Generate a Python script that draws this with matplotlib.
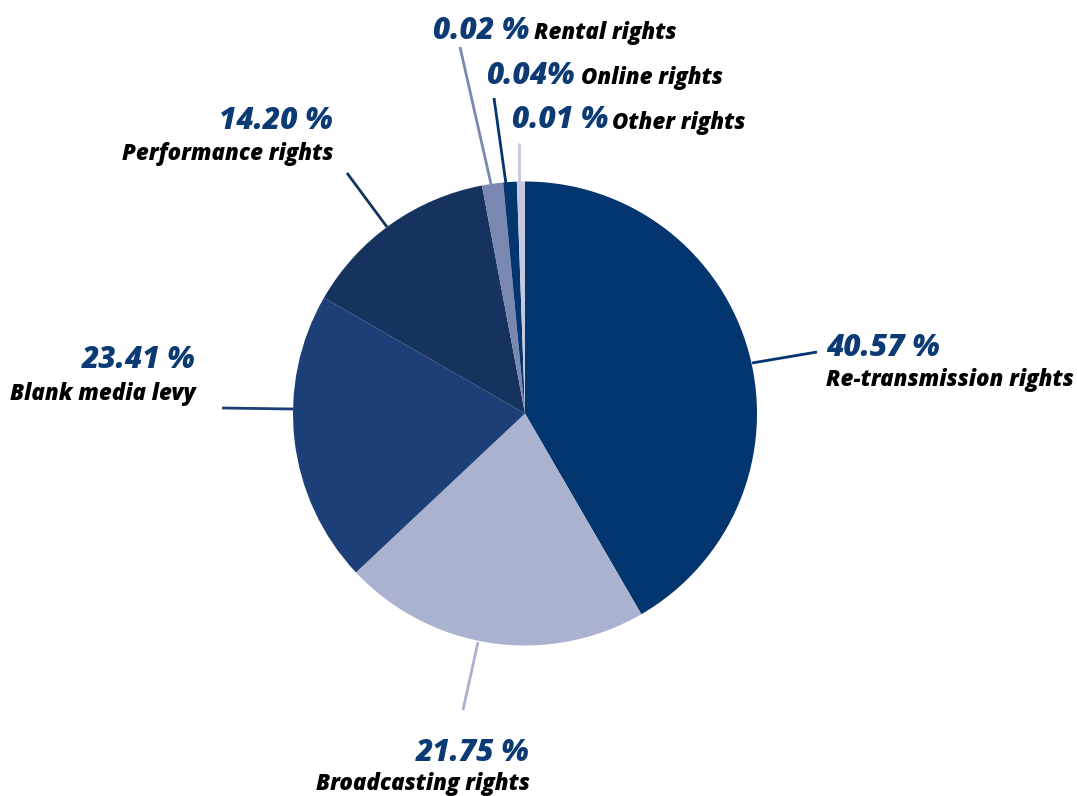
import matplotlib
matplotlib.use("Agg")
import matplotlib.pyplot as plt

# ---- data ----
categories = ["Re-transmission rights", "Broadcasting rights", "Blank media levy",
              "Performance rights", "Rental rights", "Online rights", "Other rights"]
label_pcts = ["40.57 %", "21.75 %", "23.41 %", "14.20 %", "0.02 %", "0.04%", "0.01 %"]
# slice sizes as drawn in the picture (small slices are shown enlarged)
slice_shares = [41.64, 21.35, 20.32, 13.72, 1.47, 0.94, 0.56]
colors = ["#03356e", "#abb2d0", "#1c3f77", "#16335f", "#7a87b0", "#03356e", "#c5c9df"]

W, H, DPI = 1077, 796, 100
CX, CY, R = 525, 413.5, 232

def P(px, py):
    return ((px - CX) / R, (CY - py) / R)

fig = plt.figure(figsize=(W / DPI, H / DPI), dpi=DPI)
ax = fig.add_axes([0, 0, 1, 1])
ax.pie(slice_shares, colors=colors, startangle=90, counterclock=False,
       radius=1, center=(0, 0), wedgeprops=dict(linewidth=0))
ax.set_xlim(-CX / R, (W - CX) / R)
ax.set_ylim(-(H - CY) / R, CY / R)
ax.set_aspect("equal")
ax.axis("off")

FAM = ["Open Sans", "DejaVu Sans"]
pct_color = "#0b3a74"
PCT_FS, LAB_FS = 21.5, 16.0
DY = 3

# leader lines (pixel layout)
leaders = [
    ((752, 363), (817, 352)),
    ((478, 642), (463, 710)),
    ((293, 409), (222, 408)),
    ((387, 227), (347, 173)),
    ((491, 184), (460, 47)),
    ((506, 184), (494, 98)),
    ((519, 183), (519, 143)),
]
for (a, b), c in zip(leaders, colors):
    x0, y0 = P(*a)
    x1, y1 = P(*b)
    ax.plot([x0, x1], [y0, y1], color=c, lw=2, solid_capstyle="butt")

def txt(px, py, s, ha, color, fs):
    x, y = P(px, py + DY)
    ax.text(x, y, s, ha=ha, va="center", color=color, fontsize=fs,
            fontweight=800, fontstyle="italic", family=FAM)

# Re-transmission
txt(826, 345, label_pcts[0], "left", pct_color, PCT_FS)
txt(826, 377, categories[0], "left", "black", LAB_FS)
# Broadcasting
txt(530, 750, label_pcts[1], "right", pct_color, PCT_FS)
txt(530, 781, categories[1], "right", "black", LAB_FS)
# Blank media
txt(196, 357, label_pcts[2], "right", pct_color, PCT_FS)
txt(196, 391, categories[2], "right", "black", LAB_FS)
# Performance
txt(333, 118, label_pcts[3], "right", pct_color, PCT_FS)
txt(333, 151, categories[3], "right", "black", LAB_FS)
# small slices
txt(433, 28, label_pcts[4], "left", pct_color, PCT_FS)
txt(534, 30, categories[4], "left", "black", LAB_FS)
txt(486, 73, label_pcts[5], "left", pct_color, PCT_FS)
txt(581, 75, categories[5], "left", "black", LAB_FS)
txt(512, 117, label_pcts[6], "left", pct_color, PCT_FS)
txt(612, 120, categories[6], "left", "black", LAB_FS)

fig.savefig("out.png", dpi=DPI, facecolor="white")
